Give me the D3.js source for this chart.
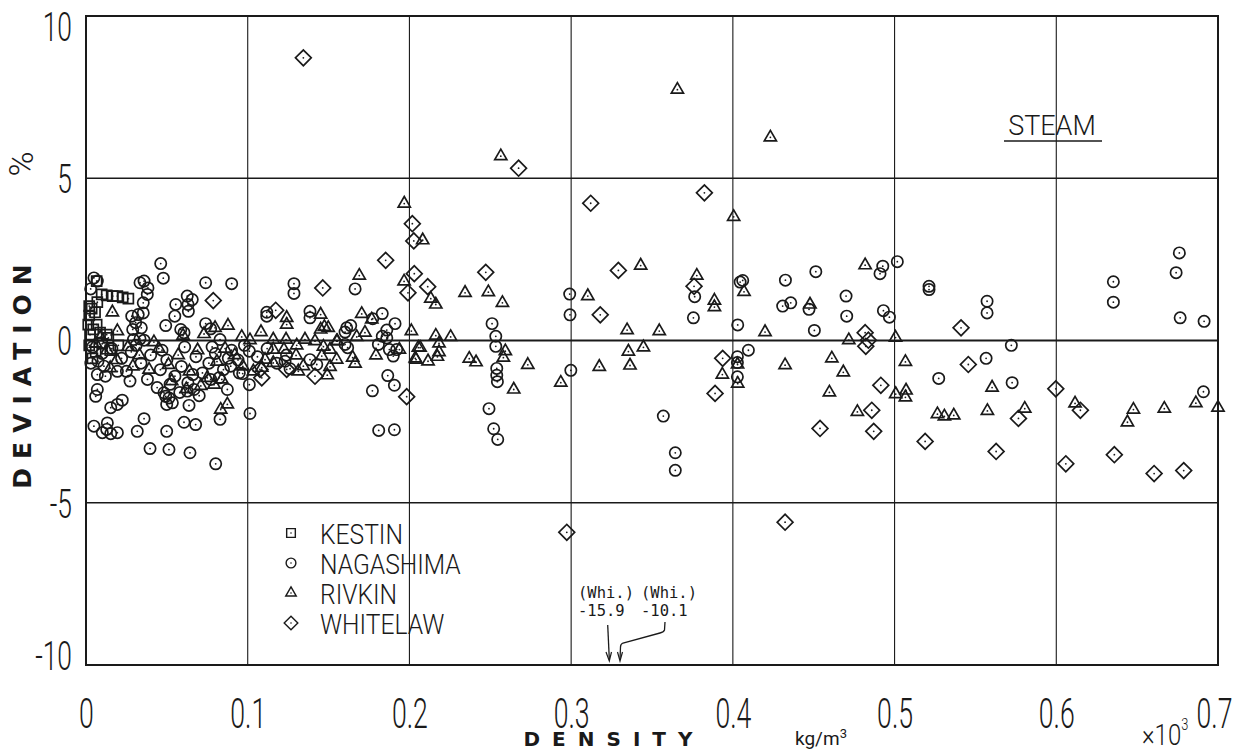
<!DOCTYPE html>
<html><head><meta charset="utf-8">
<script src="https://cdn.jsdelivr.net/npm/d3@7"></script>
<style>html,body{margin:0;padding:0;background:#fff;overflow:hidden}svg{display:block}</style>
</head><body><svg id="c" width="1233" height="753"></svg>
<script>
const xTicks=[0,0.1,0.2,0.3,0.4,0.5,0.6,0.7];
const xTickLabels=["0","0.1","0.2","0.3","0.4","0.5","0.6","0.7"];
const yTicks=[-10,-5,0,5,10];
const yTickLabels=["-10","-5","0","5","10"];
const legendLabels=["KESTIN","NAGASHIMA","RIVKIN","WHITELAW"];

const kestin=[[0.0066,1.83],[0.0097,1.42],[0.0128,1.39],[0.0165,1.37],[0.0194,1.37],[0.0227,1.33],[0.0262,1.29],[0.0070,1.18],[0.0056,0.87],[0.0020,1.06],[0.0020,0.77],[0.0014,0.49],[0.0066,0.49],[0.0087,0.24],[0.0128,0.18],[0.0035,0.98],[0.0025,0.18],[0.0045,0.34],[0.0138,0.08],[0.002,-0.15],[0.006,-0.35],[0.010,-0.1],[0.004,-0.55],[0.015,-0.3],[0.020,-0.15]];

const nagashima=[
[0.4513,2.12],[0.4927,2.29],[0.4910,2.06],[0.5017,2.43],[0.4700,1.37],[0.4471,0.96],[0.4704,0.75],[0.4931,0.92],[0.4968,0.72],[0.4504,0.31],[0.5213,1.67],[0.5213,1.57],[0.5572,1.21],[0.5572,0.85],[0.5722,-0.15],[0.5566,-0.55],[0.6353,1.81],[0.6353,1.18],[0.6761,2.70],[0.6741,2.09],[0.6766,0.70],[0.6914,0.59],[0.5273,-1.17],[0.5727,-1.30],[0.6910,-1.58],
[0.2991,1.43],[0.2993,0.79],[0.2998,-0.92],[0.2511,0.52],[0.2534,0.13],[0.2534,-0.18],[0.2540,-0.86],[0.2540,-1.07],[0.2544,-1.27],[0.2492,-2.10],[0.2521,-2.72],[0.2546,-3.05],[0.3570,-2.33],[0.3644,-3.46],[0.3644,-4.00],[0.3764,1.35],[0.3756,0.70],[0.4061,1.85],[0.4045,1.80],[0.4030,0.48],[0.4325,1.86],[0.4308,1.06],[0.4358,1.16],[0.4028,-0.50],[0.4028,-1.12],[0.4096,-0.30],[0.4028,-0.68],
[0.1286,1.75],[0.1286,1.45],[0.1664,1.59],[0.1118,0.87],[0.1118,0.75],[0.1385,0.90],[0.1385,0.70],[0.1612,0.39],[0.1637,0.46],[0.1602,0.26],[0.1832,0.83],[0.1860,0.32],[0.1911,0.52],[0.1832,0.13],[0.1773,0.67],[0.1010,-0.33],[0.1231,-0.64],[0.1262,-0.87],[0.1385,-0.59],[0.1427,-0.74],[0.1602,-0.12],[0.1618,-0.22],[0.1808,-0.12],[0.1860,0.08],[0.1876,-0.28],[0.1900,-0.48],[0.1921,-0.28],[0.0969,-1.02],[0.1010,-1.36],[0.1014,-2.25],[0.1866,-1.08],[0.1907,-1.38],[0.1771,-1.55],[0.1810,-2.77],[0.1907,-2.75],
[0.0462,2.37],[0.0478,1.92],[0.0049,1.93],[0.0070,1.83],[0.0334,1.78],[0.0359,1.83],[0.0383,1.62],[0.0379,1.42],[0.0740,1.78],[0.0901,1.75],[0.0029,1.59],[0.0626,1.37],[0.0657,1.26],[0.0631,1.11],[0.0555,1.11],[0.0549,0.75],[0.0633,0.90],[0.0354,1.16],[0.0354,0.85],[0.0323,0.80],[0.0283,0.75],[0.0289,0.34],[0.0307,0.55],[0.0342,0.39],[0.0493,0.46],[0.0586,0.34],[0.0606,0.24],[0.0740,0.52],[0.0771,0.36],[0.0829,0.03],[0.0293,0.03],[0.0334,0.05],[0.0359,0.01],
[0.0074,-0.64],[0.0111,-0.79],[0.0070,-1.05],[0.0194,-0.95],[0.0272,-1.25],[0.0874,-1.51],[0.0823,-1.15],[0.0771,-1.20],[0.0482,-1.61],[0.0513,-1.77],[0.0499,-1.97],[0.0534,-1.92],[0.0493,-1.72],[0.0626,-1.56],[0.0668,-1.51],[0.0829,-2.43],[0.0070,-1.51],[0.0060,-1.72],[0.0224,-1.84],[0.0194,-1.97],[0.0153,-2.07],[0.0132,-2.54],[0.0128,-2.74],[0.0049,-2.64],[0.0101,-2.84],[0.0153,-2.87],[0.0194,-2.84],[0.0359,-2.41],[0.0317,-2.80],[0.0499,-2.80],[0.0606,-2.52],[0.0678,-2.59],[0.0637,-2.00],[0.0396,-3.33],[0.0513,-3.36],[0.0643,-3.46],[0.0802,-3.80],[0.0948,-1.00],[0.0895,-0.79],
[0.004,-0.2],[0.010,-0.4],[0.016,-0.25],[0.022,-0.55],[0.028,-0.35],[0.034,-0.7],[0.040,-0.45],[0.046,-0.9],[0.050,-0.6],[0.055,-1.1],[0.059,-0.8],[0.063,-1.3],[0.068,-0.5],[0.072,-1.0],[0.076,-0.7],[0.080,-0.4],[0.085,-0.9],[0.090,-0.3],[0.094,-0.6],[0.098,-0.15],[0.012,-1.1],[0.025,-0.95],[0.038,-1.2],[0.044,-1.45],[0.052,-1.35],[0.058,-1.6],[0.066,-1.05],[0.070,-1.7],[0.078,-0.2],[0.088,-0.55],[0.003,-0.7],[0.031,-0.15],[0.047,-0.3],[0.061,-0.2],[0.106,-0.5],[0.112,-0.25],[0.118,-0.7],[0.124,-0.45]
];

const rivkin=[
[0.4818,2.32],[0.4477,1.11],[0.4717,0.01],[0.5006,0.09],[0.4612,-0.55],[0.4683,-0.98],[0.5067,-0.66],[0.4597,-1.60],[0.5007,-1.65],[0.5071,-1.54],[0.5067,-1.75],[0.5603,-1.45],[0.4770,-2.20],[0.5265,-2.27],[0.5308,-2.34],[0.5366,-2.31],[0.5574,-2.17],[0.5805,-2.10],[0.6116,-1.94],[0.6440,-2.52],[0.6477,-2.13],[0.6668,-2.10],[0.6863,-1.93],[0.700,-2.07],
[0.3657,7.73],[0.4232,6.26],[0.2565,5.68],[0.4005,3.81],[0.1968,4.22],[0.2082,3.09],[0.1967,1.82],[0.2132,1.29],[0.2163,1.11],[0.2344,1.47],[0.2488,1.49],[0.2575,1.16],[0.2012,0.29],[0.2163,0.15],[0.2183,-0.09],[0.2255,0.11],[0.3103,1.37],[0.3430,2.31],[0.3346,0.32],[0.3545,0.29],[0.3777,2.00],[0.3886,1.23],[0.3886,1.03],[0.4069,1.50],[0.4199,0.26],
[0.2066,-0.22],[0.2036,-0.55],[0.2115,-0.64],[0.2183,-0.36],[0.2173,-0.50],[0.2370,-0.56],[0.2412,-0.67],[0.2593,-0.33],[0.2581,-0.53],[0.2732,-0.75],[0.2645,-1.51],[0.2936,-1.30],[0.3174,-0.81],[0.3354,-0.34],[0.3447,-0.21],[0.3364,-0.77],[0.3935,-1.05],[0.4030,-1.33],[0.4029,-0.74],[0.4323,-0.76],
[0.1690,2.00],[0.1241,0.70],[0.1241,0.49],[0.1451,0.80],[0.1451,0.34],[0.1498,0.39],[0.1474,0.42],[0.1705,0.82],[0.1767,0.65],[0.1082,0.26],[0.0963,0.11],[0.1014,0.01],[0.1158,0.03],[0.1237,0.03],[0.1354,0.03],[0.1416,-0.02],[0.1554,-0.02],[0.1674,0.11],[0.1725,0.24],
[0.1158,-0.28],[0.1224,-0.28],[0.1303,-0.15],[0.1299,-0.46],[0.1468,-0.19],[0.1509,-0.28],[0.1550,-0.02],[0.1458,-0.48],[0.1649,-0.53],[0.1664,-0.71],[0.1550,-0.59],[0.1793,-0.46],[0.1938,-0.28],[0.2041,-0.59],[0.2055,-0.22],[0.1035,-0.95],[0.1313,-0.95],[0.1344,-0.79],[0.1492,-1.07],[0.1509,-0.81],[0.1158,-0.69],[0.1107,-0.59],[0.1087,-0.84],
[0.0163,0.87],[0.0194,0.29],[0.0798,0.39],[0.0878,0.46],[0.0792,-1.36],[0.0874,-1.97],[0.0833,-2.13],
[0.006,-0.1],[0.013,-0.3],[0.019,-0.6],[0.026,-0.2],[0.033,-0.45],[0.039,-0.9],[0.045,-0.25],[0.051,-0.75],[0.057,-0.45],[0.064,-0.95],[0.069,-0.3],[0.075,-1.15],[0.081,-0.65],[0.086,-0.25],[0.092,-0.45],[0.097,-0.8],[0.053,-1.25],[0.062,-1.5],[0.071,-1.4],[0.029,-0.8],[0.015,-0.85],[0.042,-0.05],[0.060,0.15],[0.073,0.2],[0.084,-1.2],[0.009,0.1]
];

const whitelaw=[
[0.1344,8.71],[0.1853,2.47],[0.2018,3.60],[0.2027,3.07],[0.2030,2.06],[0.1991,1.47],[0.2113,1.66],[0.1464,1.62],[0.0787,1.23],[0.1173,0.93],[0.2675,5.31],[0.2472,2.10],[0.3121,4.23],[0.3292,2.16],[0.3180,0.79],[0.3824,4.55],[0.3760,1.67],[0.3937,-0.55],[0.3890,-1.63],[0.4323,-5.60],[0.2973,-5.91],[0.1983,-1.73],[0.5411,0.39],[0.5456,-0.74],[0.4818,0.24],[0.4838,0.01],[0.4822,-0.18],[0.4915,-1.38],[0.4859,-2.15],[0.4539,-2.71],[0.4871,-2.80],[0.5189,-3.11],[0.5628,-3.42],[0.5766,-2.40],[0.5997,-1.49],[0.6059,-3.80],[0.6149,-2.15],[0.6359,-3.52],[0.6605,-4.10],[0.6788,-4.01],[0.1076,-0.89],[0.1087,-1.15],[0.1416,-1.10],[0.1241,-0.89]
];

const svg=d3.select("#c");
svg.append("rect").attr("width",1233).attr("height",753).attr("fill","#fff");
const x=d3.scaleLinear().domain([0,0.7]).range([86,1218]);
const y=d3.scaleLinear().domain([-10,10]).range([665,16]);
const ink="#1a1a1a";
const thin="Roboto, 'DejaVu Sans', sans-serif";

// grid
const g=svg.append("g");
g.selectAll(".vg").data(xTicks.slice(1,-1)).join("line")
 .attr("x1",d=>x(d)).attr("x2",d=>x(d)).attr("y1",y(10)).attr("y2",y(-10))
 .attr("stroke",ink).attr("stroke-width",1.1);
g.selectAll(".hg").data(yTicks.slice(1,-1)).join("line")
 .attr("x1",x(0)).attr("x2",x(0.7)).attr("y1",d=>y(d)).attr("y2",d=>y(d))
 .attr("stroke",ink).attr("stroke-width",d=>d===0?1.8:1.3);
g.append("rect").attr("x",x(0)).attr("y",y(10)).attr("width",x(0.7)-x(0)).attr("height",y(-10)-y(10))
 .attr("fill","none").attr("stroke",ink).attr("stroke-width",2);

// axes
const sxX=0.62, sxY=0.66;
const xa=svg.append("g").attr("transform",`translate(0,${y(-10)})`)
 .call(d3.axisBottom(x).tickValues(xTicks).tickFormat((d,i)=>xTickLabels[i]).tickSize(0));
xa.select(".domain").remove();
xa.selectAll("text").attr("y",63).attr("dy",0)
 .attr("x",(d,i)=>i===xTicks.length-1?-4/sxX:0)
 .attr("transform",`scale(${sxX},1)`)
 .attr("font-family",thin).attr("font-weight",300).attr("font-size",43).attr("fill",ink);
const ya=svg.append("g").attr("transform",`translate(${x(0)},0)`)
 .call(d3.axisLeft(y).tickValues(yTicks).tickFormat((d,i)=>yTickLabels[i]).tickSize(0));
ya.select(".domain").remove();
ya.selectAll("text").attr("x",-14/sxY)
 .attr("dy",d=>d===10?"0.62em":(d===-10?"0.1em":"0.36em"))
 .attr("transform",`scale(${sxY},1)`)
 .attr("font-family",thin).attr("font-weight",300).attr("font-size",40).attr("fill",ink);

// axis titles
svg.append("text").attr("x",614).attr("y",746).attr("text-anchor","middle")
 .attr("font-family","'DejaVu Sans', sans-serif").attr("font-weight","bold").attr("font-size",20)
 .attr("letter-spacing",12).attr("fill",ink).text("DENSITY");
const kg=svg.append("text").attr("x",795).attr("y",745).attr("font-family",thin)
 .attr("font-size",19).attr("fill",ink);
kg.append("tspan").text("kg/m");
kg.append("tspan").attr("font-size",13).attr("dy",-7).text("3");
const e3=svg.append("text").attr("transform","translate(1142,745) scale(0.8,1)")
 .attr("font-family",thin).attr("font-weight",300).attr("font-size",30).attr("fill",ink);
e3.append("tspan").text("×10");
e3.append("tspan").attr("font-size",16).attr("dy",-15).text("3");

svg.append("text").attr("transform","translate(31,372) rotate(-90)").attr("text-anchor","middle")
 .attr("font-family","'DejaVu Sans', sans-serif").attr("font-weight","bold").attr("font-size",25)
 .attr("letter-spacing",9).attr("fill",ink).text("DEVIATION");
svg.append("text").attr("transform","translate(33,164) rotate(-90)").attr("text-anchor","middle")
 .attr("font-family",thin).attr("font-weight",300).attr("font-size",34).attr("fill",ink).text("%");

// STEAM label
svg.append("text").attr("x",1052).attr("y",135).attr("text-anchor","middle")
 .attr("font-family",thin).attr("font-weight",300).attr("font-size",27).attr("fill",ink).text("STEAM");
svg.append("line").attr("x1",1004).attr("x2",1102).attr("y1",141).attr("y2",141).attr("stroke",ink).attr("stroke-width",1.5);

// symbols
const sym={
 kestin:{type:d3.symbolSquare,size:100,rot:0},
 nagashima:{type:d3.symbolCircle,size:100,rot:0},
 rivkin:{type:d3.symbolTriangle,size:64,rot:0},
 whitelaw:{type:d3.symbolSquare,size:125,rot:45}
};
const series=[["kestin",kestin],["nagashima",nagashima],["rivkin",rivkin],["whitelaw",whitelaw]];
const pts=svg.append("g");
series.forEach(([k,data])=>{
 const s=sym[k];
 const p=d3.symbol().type(s.type).size(s.size)();
 const gg=pts.append("g").attr("class",k);
 gg.selectAll("path").data(data).join("path").attr("d",p)
  .attr("transform",d=>`translate(${x(d[0])},${y(d[1])}) rotate(${s.rot})`)
  .attr("fill","none").attr("stroke",ink).attr("stroke-width",1.7);
 gg.selectAll("circle").data(data).join("circle")
  .attr("cx",d=>x(d[0])).attr("cy",d=>y(d[1])).attr("r",0.9).attr("fill",ink);
});

// legend
const lg=svg.append("g");
const lKeys=["kestin","nagashima","rivkin","whitelaw"];
const lY=[533,563,593,623];
lKeys.forEach((k,i)=>{
 const s=sym[k];
 lg.append("path").attr("d",d3.symbol().type(s.type).size(s.size*0.75)())
  .attr("transform",`translate(291,${lY[i]}) rotate(${s.rot})`)
  .attr("fill","none").attr("stroke",ink).attr("stroke-width",1.4);
 lg.append("circle").attr("cx",291).attr("cy",lY[i]).attr("r",0.8).attr("fill",ink);
 lg.append("text").attr("transform",`translate(320,${lY[i]+10.5}) scale(0.88,1)`)
  .attr("font-family",thin).attr("font-weight",300).attr("font-size",28)
  .attr("fill",ink).text(legendLabels[i]);
});

// annotations
const mono="'DejaVu Sans Mono', 'Liberation Mono', monospace";
[["(Whi.)",578,598],["-15.9",578,616],["(Whi.)",641,598],["-10.1",641,616]].forEach(([t,tx,ty])=>{
 svg.append("text").attr("x",tx).attr("y",ty).attr("font-family",mono).attr("font-size",15.5).attr("fill",ink).text(t);
});
svg.append("path").attr("d","M607.7,625 L609.3,659").attr("fill","none").attr("stroke",ink).attr("stroke-width",1.3);
svg.append("path").attr("d","M606,652 L609.3,661 L611.5,652").attr("fill","none").attr("stroke",ink).attr("stroke-width",1.2);
svg.append("path").attr("d","M665,622 L664.5,630 Q664,632 660,633 L623,643 Q620.5,644 620.5,647 L620,659").attr("fill","none").attr("stroke",ink).attr("stroke-width",1.3);
svg.append("path").attr("d","M617.5,652 L620,661 L622.5,652").attr("fill","none").attr("stroke",ink).attr("stroke-width",1.2);
</script></body></html>
